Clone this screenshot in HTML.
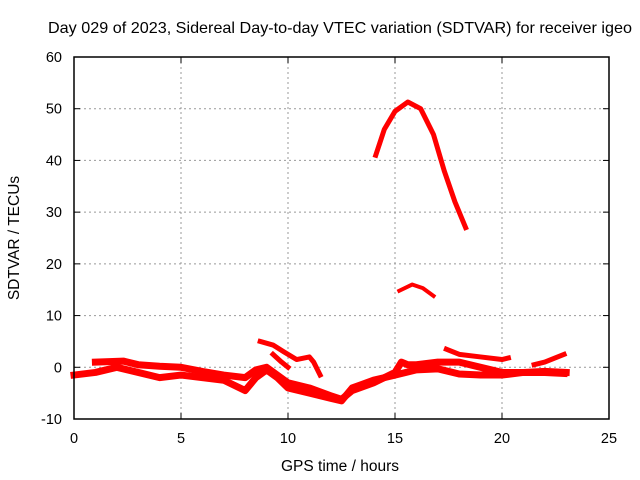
<!DOCTYPE html>
<html><head><meta charset="utf-8"><style>
body{margin:0;background:#fff}
svg{display:block;font-family:"Liberation Sans",sans-serif}
</style></head><body>
<svg id="chart" width="640" height="480" viewBox="0 0 640 480">
<rect width="640" height="480" fill="#fff"/>
<text x="340" y="33" font-size="16" text-anchor="middle" textLength="584" lengthAdjust="spacingAndGlyphs">Day 029 of 2023, Sidereal Day-to-day VTEC variation (SDTVAR) for receiver igeo</text>
<g id="grid"></g>
<g id="series"></g>
<g id="axes"></g>
<text x="340" y="471" font-size="15.5" text-anchor="middle">GPS time / hours</text>
<text transform="translate(19,238) rotate(-90)" font-size="15.5" text-anchor="middle">SDTVAR / TECUs</text>
</svg>
<script>
const xTicks=[0,5,10,15,20,25];
const yTicks=[-10,0,10,20,30,40,50,60];
const traceArc=[[14.1,41],[14.5,46],[15,49.5],[15.6,51.3],[16.2,50],[16.8,45],[17.3,38],[17.8,32],[18.3,27]];
const traceMid=[[15.2,14.8],[15.8,16],[16.3,15.3],[16.8,13.8]];
const bandUpper=[[1,1],[2.3,1.2],[3,0.5],[4,0.2],[5,0],[6,-0.8],[7,-1.5],[8,-2],[8.5,-0.5],[9,0],[9.5,-1.5],[10,-3],[11,-4],[12,-5.5],[12.5,-6.2],[13,-4.5],[14,-3],[15,-1],[15.3,1],[15.6,0.5],[16,0.5],[17,1],[18,1],[19,0],[20,-1],[21,-1],[22,-0.8],[23,-1]];
const bandLower=[[0,-1.5],[1,-1],[2,0],[3,-1],[4,-2],[5,-1.5],[6,-2],[7,-2.5],[8,-4.5],[8.5,-2],[9,-0.5],[9.5,-2],[10,-4],[11,-5],[12,-6],[12.5,-6.5],[13,-4],[14,-2.5],[15,-1.5],[16,-0.5],[17,-0.3],[18,-1.3],[19,-1.5],[20,-1.5],[21,-1],[22,-1],[22.9,-1.2]];
const traceC=[[8.7,5],[9.3,4.3],[9.8,3],[10.4,1.5],[11,2],[11.2,1],[11.5,-1.5]];
const traceD=[[9.3,2.5],[9.7,1],[10,0]];
const traceE=[[17.4,3.5],[18,2.5],[19,2],[20,1.5],[20.3,1.8]];
const traceF=[[21.5,0.5],[22,1],[22.9,2.5]];
const X0=74,X1=609,Y0=419,Y1=57;
const xs=v=>X0+(v-0)/(25-0)*(X1-X0);
const ys=v=>Y0-(v+10)/70*(Y0-Y1);
const NS="http://www.w3.org/2000/svg";
const grid=document.getElementById('grid'),axes=document.getElementById('axes'),ser=document.getElementById('series');
function mk(tag,attrs,parent){const e=document.createElementNS(NS,tag);for(const k in attrs)e.setAttribute(k,attrs[k]);parent.appendChild(e);return e;}
xTicks.forEach(t=>{
 if(t>0&&t<25){const g=mk('line',{x1:xs(t),x2:xs(t),y1:Y0,y2:Y1,stroke:'#999','stroke-dasharray':'2,3'},grid);
 
 }
 const l=mk('text',{x:xs(t),y:Y0+24,'font-size':14.5,'text-anchor':'middle'},axes);l.textContent=t;
 
 
 mk('line',{x1:xs(t),x2:xs(t),y1:Y0,y2:Y0-6,stroke:'#000'},axes);
 mk('line',{x1:xs(t),x2:xs(t),y1:Y1,y2:Y1+6,stroke:'#000'},axes);
});
yTicks.forEach(t=>{
 if(t>-10&&t<60){const g=mk('line',{x1:X0,x2:X1,y1:ys(t),y2:ys(t),stroke:'#999','stroke-dasharray':'2,3'},grid);
 
 }
 const l=mk('text',{x:X0-12,y:ys(t)+5,'font-size':14.5,'text-anchor':'end'},axes);l.textContent=t;
 
 
 mk('line',{x1:X0,x2:X0+6,y1:ys(t),y2:ys(t),stroke:'#000'},axes);
 mk('line',{x1:X1,x2:X1-6,y1:ys(t),y2:ys(t),stroke:'#000'},axes);
});
const fr=mk('rect',{x:X0,y:Y1,width:X1-X0,height:Y0-Y1,fill:'none',stroke:'#000','stroke-width':1.5},axes);


[[traceArc,5,'trace-arc'],[traceMid,4,'trace-mid'],[bandUpper,7,'band-upper'],[bandLower,7,'band-lower'],[traceC,5,'trace-c'],[traceD,5,'trace-d'],[traceE,5,'trace-e'],[traceF,5,'trace-f']].forEach(([d,w,n])=>{
 const p=mk('polyline',{points:d.map(q=>xs(q[0])+','+ys(q[1])).join(' '),fill:'none',stroke:'#f00','stroke-width':w,'stroke-linejoin':'round','stroke-linecap':'square'},ser);
 
 
});
</script>
</body></html>
